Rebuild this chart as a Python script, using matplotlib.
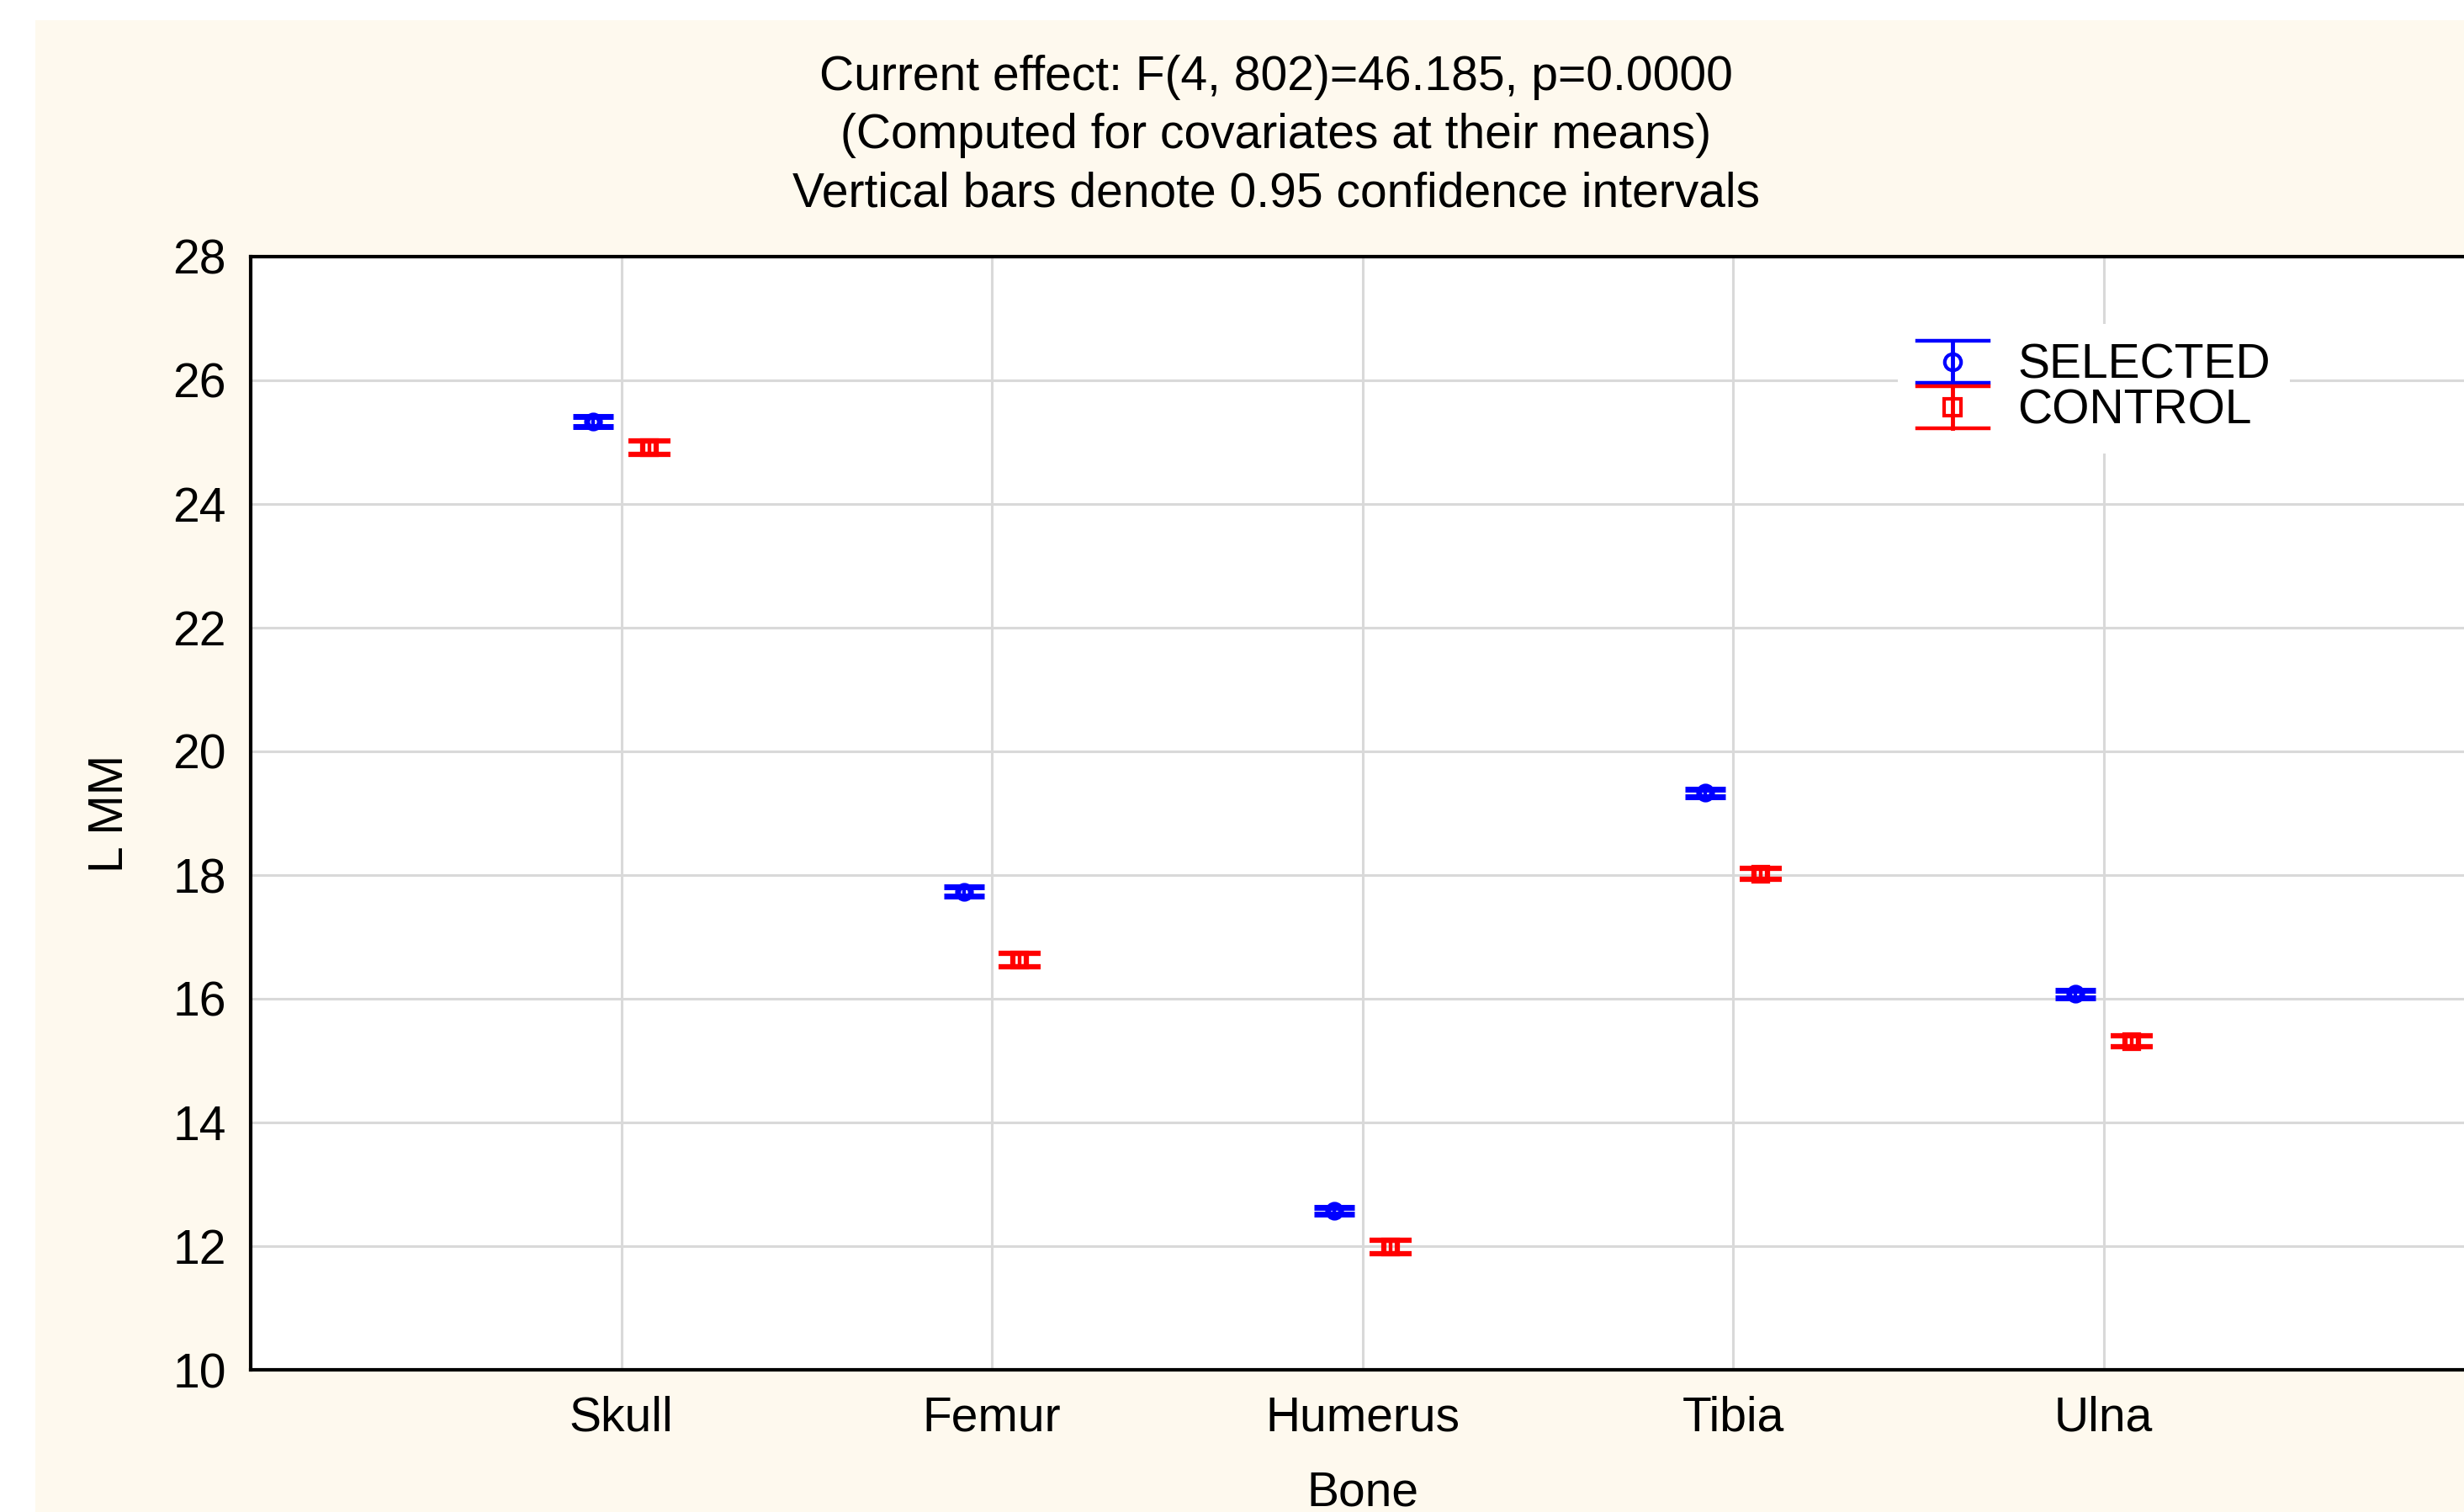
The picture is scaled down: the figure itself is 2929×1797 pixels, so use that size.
import numpy as np
import matplotlib.pyplot as plt
from matplotlib.lines import Line2D
from matplotlib.patches import Rectangle
from matplotlib.legend_handler import HandlerBase
from matplotlib.container import ErrorbarContainer

plt.rcParams['font.family'] = ['Liberation Sans', 'DejaVu Sans']

# ---- data ----
bones = ['Skull', 'Femur', 'Humerus', 'Tibia', 'Ulna']
selected = [25.33, 17.73, 12.57, 19.33, 16.08]
selected_ci = [0.08, 0.075, 0.055, 0.06, 0.06]
control = [24.91, 16.63, 11.99, 18.02, 15.31]
control_ci = [0.11, 0.11, 0.11, 0.09, 0.09]
title_lines = ['Current effect: F(4, 802)=46.185, p=0.0000',
               '(Computed for covariates at their means)',
               'Vertical bars denote 0.95 confidence intervals']

FS = 41


class CapHandler(HandlerBase):
    # legend entry: wide caps, vertical bar, open marker
    def create_artists(self, legend, orig_handle, xdescent, ydescent,
                       width, height, fontsize, trans):
        ln = orig_handle.lines[0]
        c = ln.get_markeredgecolor()
        cx = width / 2 - xdescent
        mid = height / 2 - ydescent
        top = mid + 0.62 * height
        bot = mid - 0.62 * height
        arts = [
            Line2D([cx, cx], [bot, top], color=c, lw=3.5),
            Line2D([-xdescent, width - xdescent], [top, top], color=c, lw=3.2),
            Line2D([-xdescent, width - xdescent], [bot, bot], color=c, lw=3.2),
            Line2D([cx], [mid], marker=ln.get_marker(), ms=14,
                   mfc='none', mec=c, mew=3, ls='none'),
        ]
        for a in arts:
            a.set_transform(trans)
        return arts


W, H = 2929, 1797
fig = plt.figure(figsize=(W / 100, H / 100), dpi=100, facecolor='white')
fig.patches.append(Rectangle((42 / W, 0), 1, 1 - 24 / H, transform=fig.transFigure,
                             facecolor='#fef9ee', edgecolor='none', zorder=-10))

ax = fig.add_axes([298 / W, 169 / H, (2941 - 298) / W, (1628 - 305) / H])
ax.set_facecolor('white')

x = np.arange(1, len(bones) + 1)
off = 0.075
eb1 = ax.errorbar(x - off, selected, yerr=selected_ci, fmt='o', color='#0000ff',
                  mfc='none', mec='#0000ff', ms=11, mew=5, capsize=17, capthick=3.2,
                  elinewidth=3.2, zorder=3)
eb2 = ax.errorbar(x + off, control, yerr=control_ci, fmt='s', color='#ff0000',
                  mfc='none', mec='#ff0000', ms=11, mew=4.5, capsize=18, capthick=3.2,
                  elinewidth=3.2, zorder=3)

ax.set_xlim(0, 6)
ax.set_ylim(10, 28)
ax.set_xticks(x)
ax.set_xticklabels(bones)
ax.set_yticks(np.arange(10, 29, 2))
ax.tick_params(length=0, labelsize=FS)
ax.tick_params(axis='y', pad=21)
ax.tick_params(axis='x', pad=22)
ax.grid(True, color='#d9d9d9', lw=2.2)
ax.set_axisbelow(True)
for s in ax.spines.values():
    s.set_linewidth(3)
    s.set_color('black')

ax.set_xlabel('Bone', fontsize=FS)
ax.xaxis.set_label_coords(0.5, (1628 - 1747) / (1628 - 305))
ax.set_ylabel('L MM', fontsize=FS)
ax.yaxis.set_label_coords((158 - 298) / (2941 - 298), 0.5)

for ty, line in zip([92, 161, 230], title_lines):
    fig.text(1517 / W, 1 - ty / H, line, ha='center', va='center', fontsize=FS)

ax.legend([eb1, eb2], ['SELECTED', 'CONTROL'],
          handler_map={ErrorbarContainer: CapHandler()},
          loc='upper left', bbox_to_anchor=(2256 / W, 1 - 385 / H),
          bbox_transform=fig.transFigure, frameon=True, fancybox=False,
          framealpha=1, edgecolor='none', facecolor='white', fontsize=FS,
          handlelength=1.5, handletextpad=0.6, labelspacing=0.0,
          borderpad=0.4, borderaxespad=0)

fig.savefig('out.png', dpi=100, facecolor='white')
